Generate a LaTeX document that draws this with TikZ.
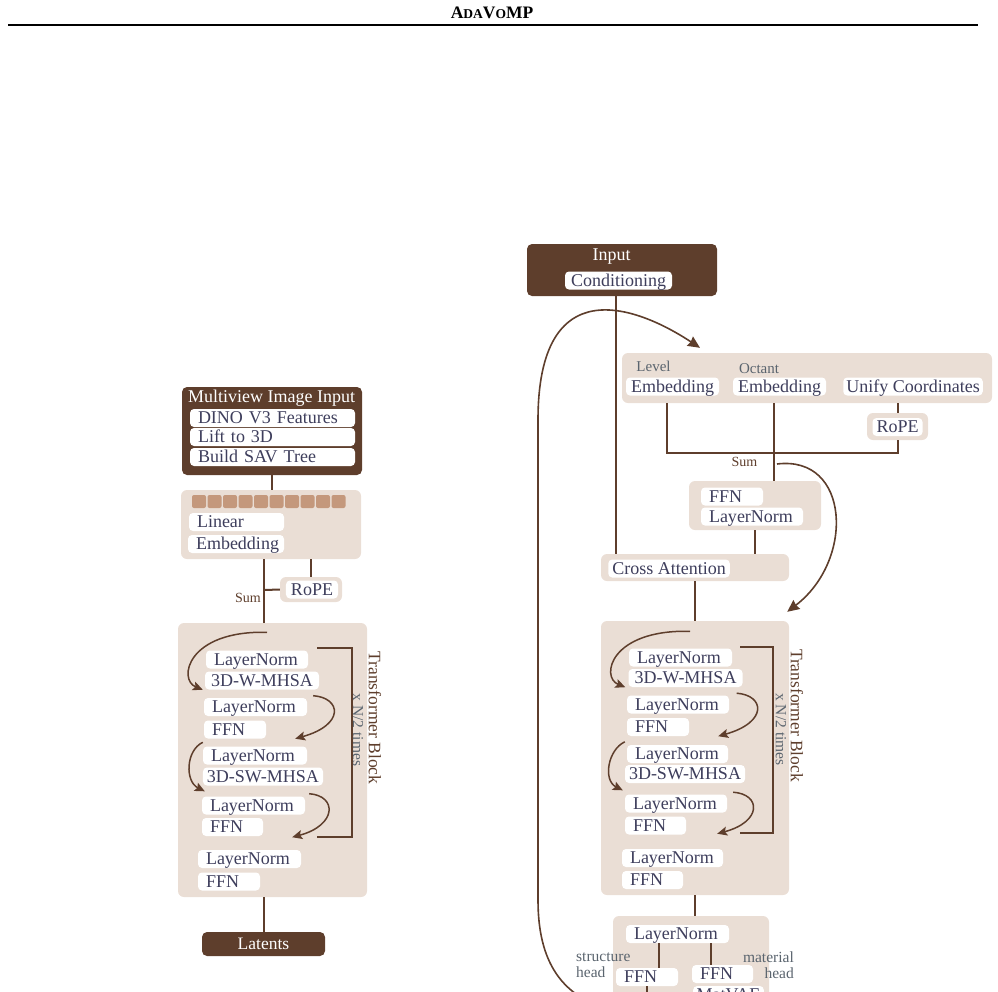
\documentclass[tikz,border=0pt]{standalone}
\usepackage{fontspec}
\setmainfont{Liberation Serif}
\usepackage{tikz}
\usetikzlibrary{arrows.meta}

\definecolor{brn}{RGB}{94,62,44}
\definecolor{sand}{RGB}{234,222,213}
\definecolor{tokc}{RGB}{196,152,124}
\definecolor{ink}{RGB}{62,62,92}
\definecolor{slate}{RGB}{90,100,110}
\newcommand{\fsz}[1]{\fontsize{#1}{#1}\selectfont}
\hyphenpenalty=10000
\exhyphenpenalty=10000

\begin{document}
\begin{tikzpicture}[x=1pt, y=-1pt,
    dark/.style={fill=brn, rounded corners=5pt, inner sep=0pt},
    pale/.style={fill=sand, rounded corners=6pt, inner sep=0pt},
    row/.style={fill=white, rounded corners=4pt, text=ink, font=\fsz{18}, inner xsep=8pt, inner ysep=0pt,
        text height=13pt, text depth=2pt, minimum height=18pt, align=left},
    ttl/.style={text=white, font=\fsz{18}, inner sep=0pt, anchor=base},
    tok/.style={fill=tokc, rounded corners=2pt, inner sep=0pt, minimum width=14pt, minimum height=13pt},
    note/.style={text=slate, font=\fsz{15}, inner sep=0pt},
    sumlbl/.style={text=brn, font=\fsz{14}, inner sep=0pt, anchor=base},
    block/.style={text=brn, font=\fsz{17.5}, inner sep=0pt, rotate=-90},
    times/.style={text=slate, font=\fsz{15.5}, inner sep=0pt, rotate=-90},
    wire/.style={draw=brn, line width=2pt},
    resid/.style={draw=brn, line width=1.5pt, -{Stealth[length=10pt,width=9pt,inset=2pt]}},
    cond/.style={draw=brn, line width=1.6pt, -{Stealth[length=12pt,width=11pt,inset=1pt]}},
]
\useasboundingbox (0,0) rectangle (998,991);

% header
\node[inner sep=0pt, font=\bfseries] (HD) at (492,13) {\fsz{17.5}A\fsz{13.5}DA\fsz{17.5}V\fsz{13.5}O\fsz{17.5}MP};
\draw[line width=2.2pt] (8,25) -- (978,25);

% left: encoder
\node[dark, minimum width=180, minimum height=88] (MV) at (272,431) {};
\node[ttl] (MT) at (271.5,402) {Multiview Image Input};
\node[row, text width=149] (D1) at (272.5,418) {DINO V3 Features};
\node[row, text width=149] (D2) at (272.5,437) {Lift to 3D};
\node[row, text width=149] (D3) at (272.5,457) {Build SAV Tree};

\node[pale, minimum width=180, minimum height=69] (LE) at (271,524.5) {};
\foreach \i in {0,...,9}
    \node[tok] (T\i) at ({199+15.5*\i},501.5) {};
\node[row, text width=79] (LIN) at (236.5,522) {Linear};
\node[row, text width=80] (EMB) at (236,544) {Embedding};

\node[pale, minimum width=62, minimum height=25] (LR) at (311,589.5) {};
\node[row, inner xsep=5pt] (LRP) at (312,589.5) {RoPE};
\node[sumlbl] (SL) at (248,602) {Sum};

\node[pale, minimum width=189, minimum height=274] (TL) at (272.5,760) {};
\node[row, text width=86] (L1) at (257,659.5) {LayerNorm};
\node[row, inner xsep=6pt] (L2) at (262,680.5) {3D-W-MHSA};
\node[row, text width=87] (L3) at (255.5,707) {LayerNorm};
\node[row, text width=46] (L4) at (235,729.5) {FFN};
\node[row, text width=88] (L5) at (255,755.5) {LayerNorm};
\node[row, inner xsep=4pt] (L6) at (263,776.5) {3D-SW-MHSA};
\node[row, text width=87] (L7) at (253.5,805.5) {LayerNorm};
\node[row, text width=45] (L8) at (232.5,827) {FFN};
\node[row, text width=87] (L9) at (249.5,859) {LayerNorm};
\node[row, text width=46] (L10) at (229,881.5) {FFN};
\node[times] (NL) at (358,730) {x N/2 times};
\node[block] (BL) at (375,718) {Transformer Block};

\node[dark, text=white, font=\fsz{17.5}, minimum width=123, minimum height=24,
    text height=13pt, text depth=2pt] (LT) at (263.5,944) {Latents};

% right: decoder
\node[dark, minimum width=190, minimum height=52] (IN) at (622,270) {};
\node[ttl] (IT) at (611.5,260) {Input};
\node[row, inner xsep=6pt] (CD) at (618.5,280.5) {Conditioning};

\node[pale, minimum width=370, minimum height=50] (EG) at (807,378) {};
\node[note, anchor=base] (LV) at (653.5,371) {Level};
\node[note, anchor=base] (OC) at (759,373) {Octant};
\node[row, inner xsep=5pt] (E1) at (672.5,386.5) {Embedding};
\node[row, inner xsep=5pt] (E2) at (779.5,386.5) {Embedding};
\node[row, inner xsep=3pt] (UC) at (913,386.5) {Unify Coordinates};
\node[pale, minimum width=61, minimum height=27] (RR) at (897.5,426.5) {};
\node[row, inner xsep=4pt] (RRP) at (897.5,427) {RoPE};
\node[sumlbl] (SR) at (744.5,466) {Sum};

\node[pale, minimum width=132, minimum height=49] (FL) at (755,505.5) {};
\node[row, text width=46] (FF) at (732,496.5) {FFN};
\node[row, text width=86] (FN) at (752,516.5) {LayerNorm};

\node[pale, minimum width=188, minimum height=27] (CA) at (695,567.5) {};
\node[row, inner xsep=4pt] (CAT) at (669,568.5) {Cross Attention};

\node[pale, minimum width=188, minimum height=274] (TR) at (695,758) {};
\node[row, text width=87] (R1) at (680.5,657.5) {LayerNorm};
\node[row, inner xsep=6pt] (R2) at (685.5,678) {3D-W-MHSA};
\node[row, text width=86] (R3) at (678,704.5) {LayerNorm};
\node[row, text width=46] (R4) at (658,727) {FFN};
\node[row, text width=85] (R5) at (677.5,754) {LayerNorm};
\node[row, inner xsep=4pt] (R6) at (685,774) {3D-SW-MHSA};
\node[row, text width=86] (R7) at (676,803.5) {LayerNorm};
\node[row, text width=45] (R8) at (655.5,825.5) {FFN};
\node[row, text width=85] (R9) at (672.5,858) {LayerNorm};
\node[row, text width=45] (R10) at (652.5,880) {FFN};
\node[times] (NR) at (781,729.5) {x N/2 times};
\node[block] (BR) at (797,715.5) {Transformer Block};

\node[pale, minimum width=156, minimum height=120] (BH) at (691,976) {};
\node[row, text width=87] (BN) at (677.5,934) {LayerNorm};
\node[row, text width=46] (HF1) at (647,977) {FFN};
\node[row, text width=45] (HF2) at (722.5,974) {FFN};
\node[row, inner xsep=3.5pt] (MVAE) at (728.5,995) {MatVAE};
\node[note, align=left, anchor=north west, font=\fontsize{15.5}{16}\selectfont] (SH) at (576,953) {structure\\head};
\node[note, align=right, anchor=north east, font=\fontsize{15.5}{16}\selectfont] (MH) at (794,951.5) {material\\head};

% left wires
\coordinate (J1) at (264,590);
\draw[wire] (MV.south) -- (MV.south |- LE.north);
\draw[wire] (J1 |- LE.south) -- (J1 |- TL.north);
\draw[wire] (J1) -- (LR.west);
\draw[wire] (LR.north) -- (LR.north |- LE.south);
\draw[wire] (J1 |- TL.south) -- (J1 |- LT.north);
\draw[wire] (317,648) -- (352,648) -- (352,837) -- (317,837);

\draw[resid] ([xshift=10pt,yshift=18pt]L1.north) .. controls +(-80,-2) and +(-25,-10) .. ([xshift=-2pt]L2.south west);
\draw[resid] ([xshift=-6pt,yshift=-6pt]L2.south east) .. controls +(28,2) and +(50,-14) .. ([xshift=29pt]L4.south east);
\draw[resid] ([yshift=4pt]L5.north west) .. controls +(-17,8) and +(-20,-10) .. ([xshift=3pt,yshift=5pt]L7.north west);
\draw[resid] ([xshift=-14pt,yshift=-8pt]L6.south east) .. controls +(28,2) and +(45,-12) .. ([xshift=29pt,yshift=-1pt]L8.south east);

% right wires
\coordinate (C1) at (616,0);
\coordinate (J2) at (667,453);
\coordinate (C3) at (774,0);
\coordinate (J3) at (777,464);
\coordinate (MO) at (647,1012);
\coordinate (SO) at (620,1012);
\draw[wire] (C1 |- IN.south) -- (C1 |- CA.north);
\draw[wire] (J2 |- EG.south) -- (J2) -- (J2 -| RR.south) -- (RR.south);
\draw[wire] (RR.north) -- (RR.north |- EG.south);
\draw[wire] (C3 |- EG.south) -- (C3 |- FL.north);
\draw[wire] (FL.south) -- (FL.south |- CA.north);
\draw[wire] (CA.south) -- (CA.south |- TR.north);
\draw[wire] (TR.south) -- (TR.south |- BH.north);
\draw[wire] (659,0 |- BN.south) -- (659,0 |- HF1.north);
\draw[wire] (711,0 |- BN.south) -- (711,0 |- HF2.north);
\draw[wire] (HF1.south) -- (MO);
\draw[wire] (740,647) -- (773,647) -- (773,833) -- (740,833);

\draw[cond] (J3) .. controls (850,455) and (855,560) .. ([xshift=-2pt,yshift=9pt]TR.north east);
\draw[cond] (SO) .. controls (560,1000) and (538,960) .. (538,900) -- (538,420)
    .. controls (538,270) and (635,305) .. ([xshift=-107pt,yshift=5pt]EG.north);

\draw[resid] ([xshift=9.5pt,yshift=17pt]R1.north) .. controls +(-80,-2) and +(-25,-10) .. ([xshift=-3pt]R2.south west);
\draw[resid] ([xshift=-6pt,yshift=-6pt]R2.south east) .. controls +(28,2) and +(50,-14) .. ([xshift=29pt]R4.south east);
\draw[resid] ([xshift=-2pt,yshift=3pt]R5.north west) .. controls +(-17,8) and +(-20,-10) .. ([xshift=-2pt,yshift=4pt]R7.north west);
\draw[resid] ([xshift=-12pt,yshift=-9pt]R6.south east) .. controls +(28,2) and +(45,-12) .. ([xshift=31pt,yshift=1pt]R8.south east);
\end{tikzpicture}
\end{document}
